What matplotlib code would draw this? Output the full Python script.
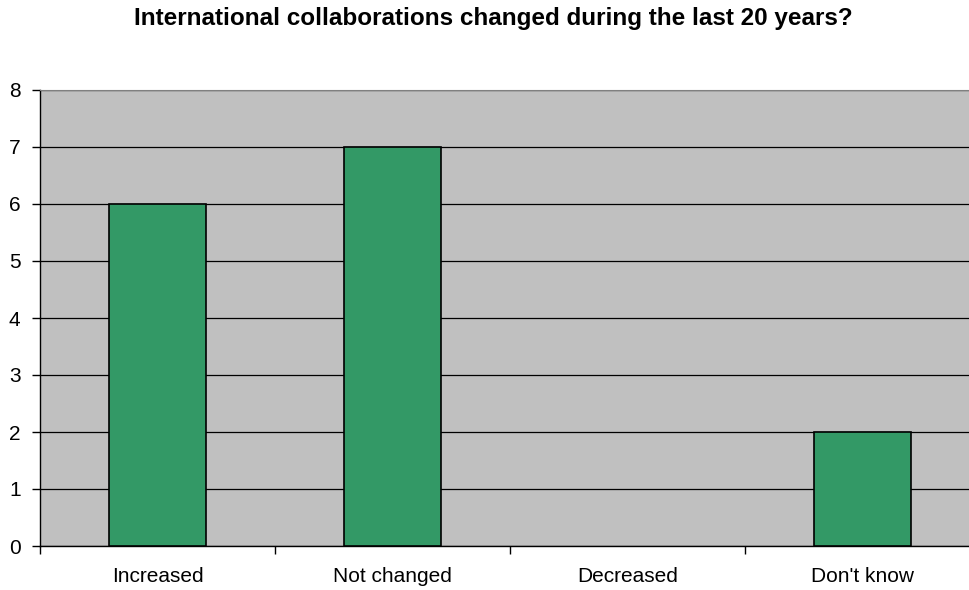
import matplotlib.pyplot as plt
import numpy as np

plt.rcParams['font.family'] = ['Liberation Sans', 'DejaVu Sans']

categories = ["Increased", "Not changed", "Decreased", "Don't know"]
counts = [6, 7, 0, 2]

fig = plt.figure(figsize=(9.69, 5.9), dpi=100)
# plot area runs slightly past the right edge of the figure
ax = fig.add_axes([40 / 969, 44 / 590, 940 / 969, 456 / 590])
ax.set_facecolor('#C0C0C0')

x = np.arange(len(categories))
# empty categories get no outline
edges = ['black' if c > 0 else 'none' for c in counts]
ax.bar(x, counts, width=0.41, color='#339966', edgecolor=edges, linewidth=1.2, zorder=3)

ax.set_xlim(-0.5, len(categories) - 0.5)
ax.set_ylim(0, 8)
ax.set_yticks(range(0, 9))
ax.yaxis.grid(True, color='black', linewidth=0.9, zorder=0)
ax.set_axisbelow(True)

ax.set_xticks(x)
ax.set_xticklabels(categories, fontsize=15)
ax.tick_params(axis='x', length=0, pad=15)
ax.set_xticks(np.arange(-0.5, len(categories)), minor=True)
ax.tick_params(axis='x', which='minor', length=6, width=1, direction='out')
ax.tick_params(axis='y', length=6, width=1, direction='out', labelsize=15, pad=8)

ax.spines['right'].set_visible(False)
ax.spines['top'].set_color('#808080')
ax.spines['left'].set_linewidth(1)
ax.spines['bottom'].set_linewidth(1)

fig.suptitle("International collaborations changed during the last 20 years?",
             fontsize=17.5, fontweight='bold', x=493 / 969, y=1 - 19 / 590, va='center')

fig.savefig('out.png', dpi=100)
